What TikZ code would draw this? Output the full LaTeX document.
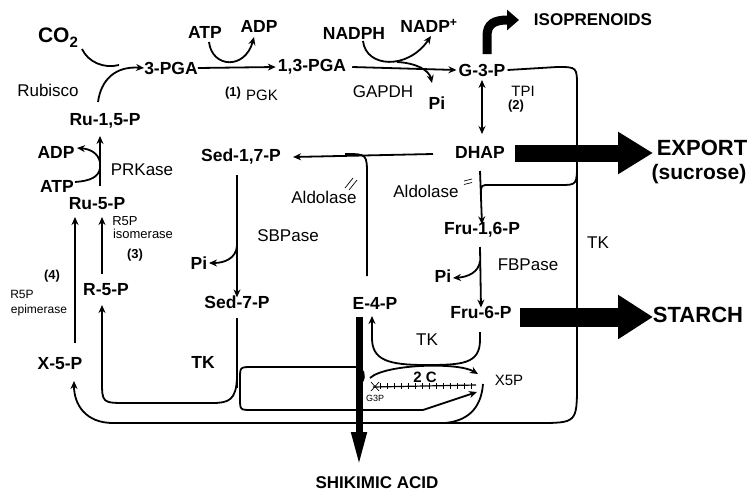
\documentclass[tikz,border=0pt]{standalone}
\usepackage{fontspec}
\setmainfont{Liberation Sans}
\usetikzlibrary{arrows.meta}
\begin{document}
\begin{tikzpicture}[x=1pt,y=-1pt,
  met/.style={font=\fontsize{17.5}{19}\selectfont\bfseries, inner sep=0pt},
  enz/.style={font=\fontsize{17}{19}\selectfont, inner sep=0pt},
  num/.style={font=\fontsize{13}{15}\selectfont\bfseries, inner sep=0pt},
  hand/.style={font=\fontsize{13}{14}\selectfont, inner sep=0pt},
  big/.style={font=\fontsize{22}{24}\selectfont\bfseries, inner sep=0pt},
  ln/.style={line width=1.8pt},
  arr/.style={ln, -{Stealth[length=8pt,width=7pt]}},
  tick/.style={line width=0.7pt},
]
\useasboundingbox[fill=white] (0,0) rectangle (749,493);

% metabolites
\node[met, font=\fontsize{21}{23}\selectfont\bfseries] (co2) at (58,38) {CO\raisebox{-0.25em}{\fontsize{15}{16}\selectfont 2}};
\node[met] (pga) at (171,68) {3-PGA};
\node[met] (bpga) at (312,67) {1,3-PGA};
\node[met] (g3p) at (482,70) {G-3-P};
\node[met] (dhap) at (480,152) {DHAP};
\node[met] (sbp) at (241,157) {Sed-1,7-P};
\node[met] (fbp) at (482,230) {Fru-1,6-P};
\node[met] (f6p) at (481,312) {Fru-6-P};
\node[met] (s7p) at (237,302) {Sed-7-P};
\node[met] (e4p) at (375,303) {E-4-P};
\node[met] (rubp) at (105,121) {Ru-1,5-P};
\node[met] (ru5p) at (97,204) {Ru-5-P};
\node[met] (r5p) at (106,290) {R-5-P};
\node[met] (x5p) at (60,364) {X-5-P};
\node[met] (atpA) at (205,32) {ATP};
\node[met] (adpA) at (259,26) {ADP};
\node[met] (nadph) at (354,33) {NADPH};
\node[met] (nadp) at (429,26) {NADP\textsuperscript{+}};
\node[met] (piA) at (437,103) {Pi};
\node[met] (adpB) at (56,152) {ADP};
\node[met] (atpB) at (57,186) {ATP};
\node[met] (piB) at (199,263) {Pi};
\node[met] (piC) at (443,276) {Pi};

% enzymes
\node[enz] (rubisco) at (48,90) {Rubisco};
\node[enz] (gapdh) at (383,92) {GAPDH};
\node[enz] (prk) at (142,170) {PRKase};
\node[enz] (sbpase) at (288,236) {SBPase};
\node[enz] (aldA) at (324,197) {Aldolase};
\node[enz] (aldB) at (426,191) {Aldolase};
\node[enz] (fbpase) at (528,265) {FBPase};
\node[met] (tkA) at (203,362) {TK};
\node[enz] (tkB) at (427,340) {TK};

% numbers and handwriting
\node[num] (n1) at (233,93) {(1)};
\node[hand, font=\fontsize{15}{16}\selectfont] (pgk) at (262,95) {PGK};
\node[num] (n2) at (516,106) {(2)};
\node[hand, font=\fontsize{15}{16}\selectfont] (tpi) at (523,91) {TPI};
\node[hand] (isoA) at (125,221) {R5P};
\node[hand] (isoB) at (143,234) {isomerase};
\node[num] (n3) at (135,255) {(3)};
\node[num] (n4) at (52,276) {(4)};
\node[hand, font=\fontsize{12}{13}\selectfont] (epiA) at (22,294) {R5P};
\node[hand, font=\fontsize{12}{13}\selectfont] (epiB) at (39,310) {epimerase};
\node[hand, font=\fontsize{17}{18}\selectfont] (tkC) at (598,243) {TK};
\node[met, font=\fontsize{15}{16}\selectfont\bfseries] (twoc) at (425,377) {2 C};
\node[hand, font=\fontsize{15}{16}\selectfont] (xfp) at (509,380) {X5P};
\node[hand, font=\fontsize{9}{10}\selectfont] (gtp) at (375,398) {G3P};

% outputs
\node[met, font=\fontsize{17}{19}\selectfont\bfseries] (iso) at (593,20) {ISOPRENOIDS};
\node[big] (export) at (702,148) {EXPORT};
\node[big, font=\fontsize{21}{23}\selectfont\bfseries] (sucrose) at (699,174) {(sucrose)};
\node[big] (starch) at (698,315) {STARCH};
\node[met, font=\fontsize{17}{19}\selectfont\bfseries] (shik) at (377,483) {SHIKIMIC ACID};

% Rubisco step
\draw[arr] (98,102) .. controls (101,80) and (115,66) .. (pga.west);
\draw[ln] (82,49) .. controls (88,62) and (104,69) .. (119,65);

% PGK step
\draw[arr] (pga.east) -- ([xshift=-2pt]bpga.west);
\draw[arr] (209,42) .. controls (212,68) and (245,70) .. (254,37);

% GAPDH step
\draw[arr] ([xshift=6pt]bpga.east) -- ([xshift=-2pt]g3p.west);
\draw[arr] (363,41) .. controls (366,68) and (408,70) .. (431,36);
\draw[arr] (397,62) .. controls (416,63) and (429,70) .. (432,83);

% TPI
\draw[ln, {Stealth[length=8pt,width=7pt]}-{Stealth[length=8pt,width=7pt]}] (482,80) -- (482,134);

% isoprenoids
\draw[line width=9pt, -{Triangle[length=12pt,width=20pt]}] (487,54) -- (487,36) .. controls (487,24) and (494,20) .. (519,20);

% big right loop from G-3-P to X-5-P
\draw[arr] ([xshift=2pt]g3p.east) -- (557,67) .. controls (577,67) .. (577,87) -- (577,383) .. controls (577,423) .. (537,423) -- (113,423) .. controls (86,423) and (74,405) .. (74,381);

% DHAP -> Fru-1,6-P with branch
\draw[arr] (480,171) -- ([yshift=-2pt]fbp.north);
\draw[ln] (577,162) .. controls (577,185) .. (560,185) -- (490,185) .. controls (481,185) .. (481,194);
\draw[tick] (464,181) -- (472,179);
\draw[tick] (464,184.5) -- (472,182.5);

% DHAP -> Sed-1,7-P and E-4-P branch
\draw[arr] (433,154) -- ([xshift=12pt]sbp.east);
\draw[ln] (367,276) -- (367,176) .. controls (367,154) .. (345,154);
\draw[tick] (345,188) -- (353,178);
\draw[tick] (349,190) -- (357,180);

% SBPase
\draw[arr] (237,175) -- ([yshift=-2pt]s7p.north);
\draw[arr] (237,246) .. controls (236,258) and (225,263) .. (209,263);

% FBPase
\draw[arr] (480,247) -- ([yshift=-2pt]f6p.north);
\draw[arr] (480,261) .. controls (479,272) and (468,277) .. (453,278);

% export and starch
\draw[line width=17pt, -{Triangle[length=35pt,width=40pt]}] (515,153) -- (653,153);
\draw[line width=19pt, -{Triangle[length=35pt,width=42pt]}] (520,317) -- (653,317);

% Ru-5-P -> Ru-1,5-P (PRKase)
\draw[arr] (100,186) -- (100,136);
\draw[ln] (75,182) .. controls (90,181) and (99,177) .. (100,168);
\draw[arr] (100,162) .. controls (98,153) and (90,149) .. (77,148);

% R-5-P, X-5-P -> Ru-5-P
\draw[arr] (102,274) -- (102,217);
\draw[arr] (75,343) -- (75,217);

% Sed-7-P line and left U to R-5-P
\draw[ln] (237,318) -- (237,388);
\draw[arr] (237,378) .. controls (236,400) and (229,403) .. (212,403) -- (127,403) .. controls (102,403) .. (102,380) -- (102,305);

% right box
\draw[ln] (362,382) .. controls (366,376) and (364,367) .. (355,367) -- (252,367) .. controls (240,367) .. (240,379) -- (240,398) .. controls (240,410) .. (252,410) -- (423,410);
\draw[arr] (423,410) -- (477,392);

% TK loop Fru-6-P -> E-4-P
\draw[arr] (480,332) -- (480,340) .. controls (480,364) and (462,365) .. (426,365) .. controls (388,365) and (372,360) .. (372,338) -- (372,316);

% 2C lens
\draw[arr] (370,378) .. controls (385,364) and (458,362) .. (478,374);
\draw[ln] (483,384) .. controls (481,410) and (466,421) .. (445,423);
\draw[line width=1.2pt] (373,387) -- (476,385);
\foreach \xx in {380,387,...,471} \draw[tick] (\xx,383) -- (\xx,389);
\draw[tick] (371,382) -- (379,391);
\draw[tick] (371,391) -- (379,382);

% shikimic acid
\draw[line width=7pt, -{Triangle[length=35pt,width=14pt]}] (359,317) -- (359,467);
\end{tikzpicture}
\end{document}
